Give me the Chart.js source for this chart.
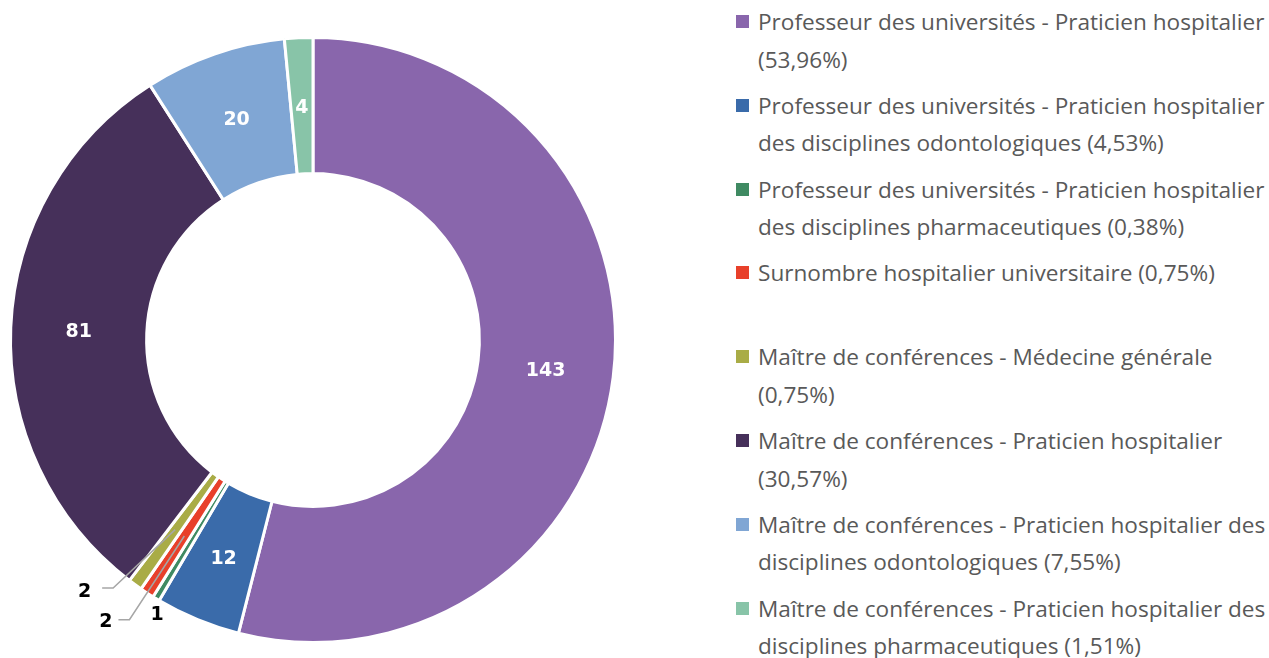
<!DOCTYPE html>
<html>
<head>
<meta charset="utf-8">
<script src="https://cdn.jsdelivr.net/npm/chart.js@4/dist/chart.umd.min.js"></script>
<style>
    html, body { margin: 0; padding: 0; background: #fff; }
    body { width: 1269px; height: 658px; position: relative; overflow: hidden; font-family: "Open Sans", sans-serif; }
    #chartBox { position: absolute; left: 0; top: 0; width: 626px; height: 658px; }
    #legend { position: absolute; left: 736px; top: 3px; width: 533px; }
    .item { height: 83.8px; position: relative; padding-left: 22px; color: #595959; font-size: 22.6px; line-height: 37.6px; white-space: normal; }
    .box { position: absolute; left: 0; top: 12px; width: 13px; height: 13px; }
</style>
</head>
<body>
<div id="chartBox"><canvas id="myDoughnut"></canvas></div>
<div id="legend"></div>
<script>
const labels = [
    'Professeur des universités - Praticien hospitalier',
    'Professeur des universités - Praticien hospitalier des disciplines odontologiques',
    'Professeur des universités - Praticien hospitalier des disciplines pharmaceutiques',
    'Surnombre hospitalier universitaire',
    'Maître de conférences - Médecine générale',
    'Maître de conférences - Praticien hospitalier',
    'Maître de conférences - Praticien hospitalier des disciplines odontologiques',
    'Maître de conférences - Praticien hospitalier des disciplines pharmaceutiques'
];
const values = [143, 12, 1, 2, 2, 81, 20, 4];
const percents = ['53,96%', '4,53%', '0,38%', '0,75%', '0,75%', '30,57%', '7,55%', '1,51%'];
const colors = ['#8966AC', '#3A6BAA', '#3F8A62', '#E8402A', '#A9AC46', '#46305A', '#80A6D4', '#88C4A8'];

// legend on the right, one fixed-height block per entry
const legend = document.getElementById('legend');
labels.forEach((lab, i) => {
    let div = document.createElement('div');
    div.className = 'item';
    div.innerHTML = '<span class="box" style="background:' + colors[i] + '"></span>' + lab + ' (' + percents[i] + ')';
    legend.appendChild(div);
});

// small slices get their number outside, some with a leader line
const outside = {
    2: { r: 14, dAngle: -0.03, line: false },
    3: { r: 32, dAngle: 0, line: true, gap: 6, dy: 2 },
    4: { r: 16, dAngle: 0.05, line: true, gap: 11, dy: 4 }
};

const sliceLabels = {
    id: 'sliceLabels',
    afterDatasetsDraw(chart) {
        const ctx = chart.ctx;
        const meta = chart.getDatasetMeta(0);
        ctx.save();
        ctx.font = 'bold 19px "DejaVu Sans", sans-serif';
        ctx.textBaseline = 'middle';
        meta.data.forEach((arc, i) => {
            const p = arc.getProps(['x', 'y', 'startAngle', 'endAngle', 'innerRadius', 'outerRadius'], true);
            const mid = (p.startAngle + p.endAngle) / 2;
            const rMid = (p.innerRadius + p.outerRadius) / 2;
            const o = outside[i];
            if (!o) {
                ctx.fillStyle = '#ffffff';
                ctx.textAlign = 'center';
                ctx.fillText(values[i], p.x + rMid * Math.cos(mid), p.y + rMid * Math.sin(mid) + 2);
                return;
            }
            const a = mid + o.dAngle;
            const ex = p.x + (p.outerRadius + o.r) * Math.cos(a);
            const ey = p.y + (p.outerRadius + o.r) * Math.sin(a);
            ctx.fillStyle = '#000000';
            if (!o.line) {
                ctx.textAlign = 'center';
                ctx.fillText(values[i], ex, ey);
                return;
            }
            ctx.strokeStyle = '#a6a6a6';
            ctx.lineWidth = 1.5;
            ctx.beginPath();
            ctx.moveTo(p.x + rMid * Math.cos(mid), p.y + rMid * Math.sin(mid));
            ctx.lineTo(ex, ey);
            ctx.lineTo(ex - 11, ey);
            ctx.stroke();
            ctx.textAlign = 'right';
            ctx.fillText(values[i], ex - 11 - o.gap, ey + o.dy);
        });
        ctx.restore();
    }
};

const ctx = document.getElementById('myDoughnut').getContext('2d');
new Chart(ctx, {
    type: 'doughnut',
    data: {
        labels: labels,
        datasets: [{
            data: values,
            backgroundColor: colors,
            borderColor: '#ffffff',
            borderWidth: 3
        }]
    },
    options: {
        responsive: true,
        maintainAspectRatio: false,
        animation: false,
        cutout: '55%',
        layout: { padding: { left: 9, right: 9, top: 36, bottom: 14 } },
        plugins: {
            legend: { display: false },
            tooltip: { enabled: false }
        }
    },
    plugins: [sliceLabels]
});
</script>
</body>
</html>
